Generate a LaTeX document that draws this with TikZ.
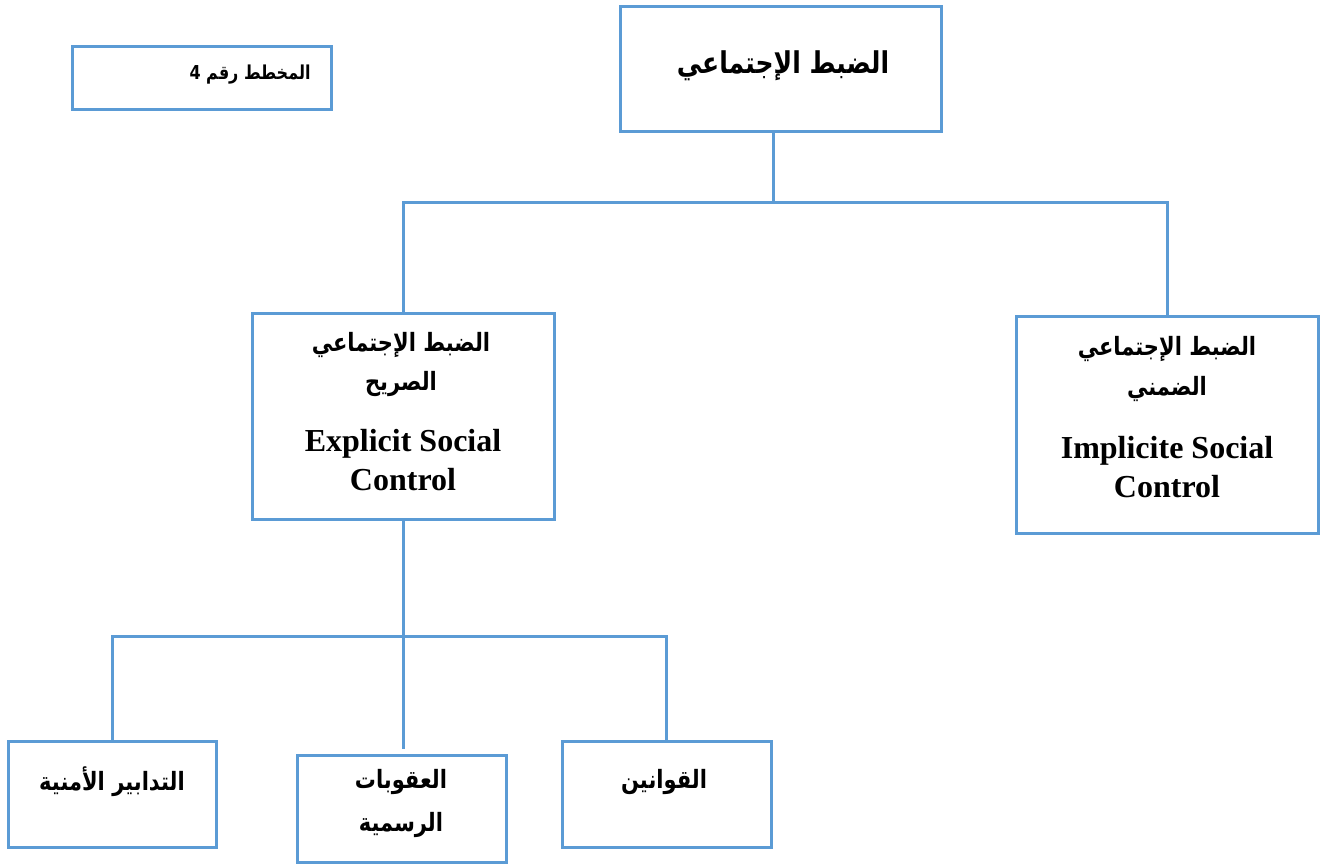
\documentclass[tikz,border=0pt]{standalone}
\usepackage{fontspec}
\setmainfont{Liberation Serif}
\newfontfamily\arabicfont[Script=Arabic]{DejaVu Sans}
\TeXXeTstate=1
\usetikzlibrary{fit}
\definecolor{boxblue}{RGB}{91,155,213}
\tikzset{
  panel/.style={draw=boxblue, line width=3pt, inner sep=0pt, fill=white},
  link/.style={draw=boxblue, line width=3pt},
  artxt/.style={inner sep=0pt, font=\arabicfont\bfseries\fontsize{#1}{#1}\selectfont},
  entxt/.style={inner sep=0pt, align=center, font=\bfseries\fontsize{32}{39}\selectfont}
}
% right-to-left Arabic line, slightly taller than the font's natural shape
\newcommand{\ar}[1]{\scalebox{1}[1.2]{\beginR #1\endR}}
\begin{document}
\begin{tikzpicture}[x=1pt,y=-1pt]
\useasboundingbox (0,0) rectangle (1325,865);

% boxes
\node[panel, fit={(72,46) (331,109)}] (chart) {};
\node[panel, fit={(620,6) (941,131)}] (root) {};
\node[panel, fit={(252,313) (554,519)}] (explicit) {};
\node[panel, fit={(1016,316) (1318,533)}] (implicit) {};
\node[panel, fit={(8,741) (216,847)}] (security) {};
\node[panel, fit={(297,755) (506,862)}] (sanctions) {};
\node[panel, fit={(562,741) (771,847)}] (laws) {};

% texts
\node[artxt=16] (chartT) at (250,75) {\ar{المخطط رقم 4}};
\node[artxt=25] (rootT) at (783,66) {\ar{الضبط الإجتماعي}};
\node[artxt=21] (explicitA1) at (401,345) {\ar{الضبط الإجتماعي}};
\node[artxt=21] (explicitA2) at (401,384) {\ar{الصريح}};
\node[entxt, anchor=base] (explicitE) at (403,490) {Explicit Social\\Control};
\node[artxt=21] (implicitA1) at (1167,349) {\ar{الضبط الإجتماعي}};
\node[artxt=21] (implicitA2) at (1167,389) {\ar{الضمني}};
\node[entxt, anchor=base] (implicitE) at (1167,497) {Implicite Social\\Control};
\node[artxt=21] (securityT) at (112,782) {\ar{التدابير الأمنية}};
\node[artxt=21] (sanctionsA1) at (401,782) {\ar{العقوبات}};
\node[artxt=21] (sanctionsA2) at (401,825) {\ar{الرسمية}};
\node[artxt=21] (lawsT) at (664,782) {\ar{القوانين}};

% connectors
\coordinate (j1) at (773,202);
\coordinate (j2) at (403,636);
\draw[link] (j1 |- root.south) -- (j1);
\draw[link] (explicit.north) -- (explicit.north |- j1) -- (implicit.north |- j1) -- (implicit.north);
\draw[link] (explicit.south) -- (j2);
\draw[link] (security.north) -- (security.north |- j2) -- (laws.north |- j2) -- (laws.north);
\draw[link, shorten >=5pt] (j2) -- (j2 |- sanctions.north);
\end{tikzpicture}
\end{document}
